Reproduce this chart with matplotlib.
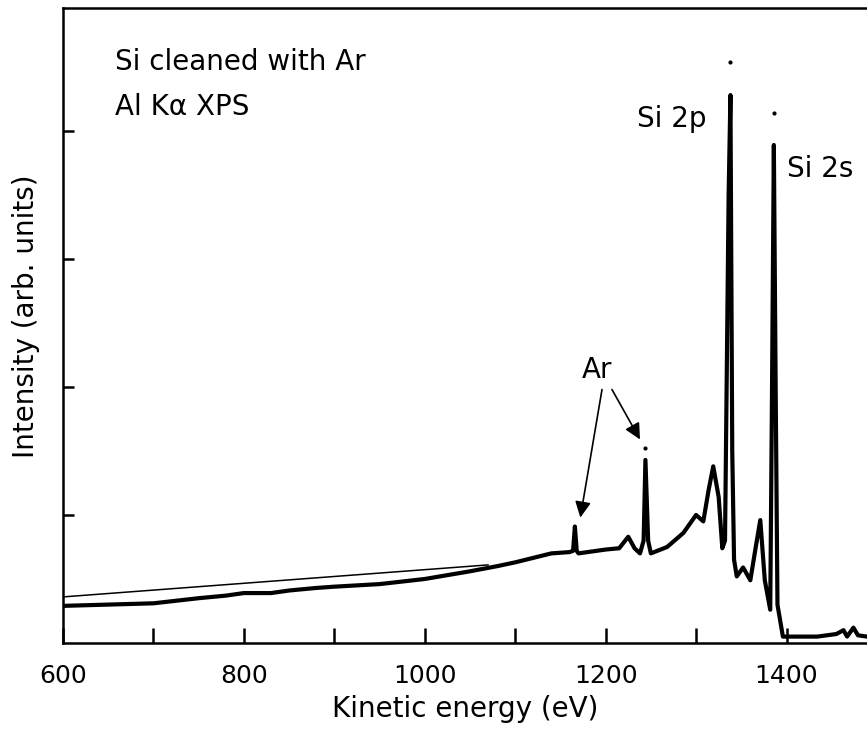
import matplotlib
matplotlib.use("Agg")
import matplotlib.pyplot as plt

# Kinetic energy (eV) and intensity (arb. units) of the measured spectrum
energy = [600, 650, 700, 750, 780, 800, 830, 850, 880, 900, 950, 1000, 1050, 1080,
          1100, 1140, 1160, 1164, 1166, 1168, 1170, 1200, 1215, 1225, 1232, 1238,
          1242, 1244, 1247, 1250, 1268, 1286, 1300, 1308, 1314, 1319, 1325, 1329,
          1332, 1336, 1338, 1340, 1342, 1345, 1352, 1360, 1366, 1371, 1376, 1382,
          1384, 1386, 1388, 1390, 1396, 1434, 1455, 1463, 1467, 1474, 1479, 1489]
intensity = [0.29, 0.30, 0.31, 0.35, 0.37, 0.39, 0.39, 0.41, 0.43, 0.44, 0.46, 0.50,
             0.56, 0.60, 0.63, 0.70, 0.71, 0.72, 0.91, 0.72, 0.70, 0.73, 0.74, 0.83,
             0.74, 0.70, 0.80, 1.43, 0.80, 0.70, 0.75, 0.86, 1.00, 0.95, 1.20, 1.38,
             1.14, 0.74, 0.80, 3.50, 4.28, 1.50, 0.65, 0.52, 0.59, 0.49, 0.75, 0.96,
             0.49, 0.26, 2.00, 3.89, 2.00, 0.30, 0.05, 0.05, 0.07, 0.10, 0.05, 0.12,
             0.06, 0.05]

# Thin straight background line
bg_energy = [600, 1070]
bg_intensity = [0.36, 0.61]

# Isolated dots above the peaks
dot_energy = [1244, 1338, 1386]
dot_intensity = [1.52, 4.54, 4.14]

x_ticks_major = [600, 800, 1000, 1200, 1400]
x_ticks_minor = [700, 900, 1100, 1300]
y_ticks = [1, 2, 3, 4]

fig = plt.figure(figsize=(8.67, 7.35), dpi=100)
ax = fig.add_axes([63/867, 1-643/735, 1-63/867, (643-8)/735])

ax.plot(energy, intensity, color='black', lw=3.0, solid_joinstyle='round')
ax.plot(bg_energy, bg_intensity, color='black', lw=1.1)
ax.scatter(dot_energy, dot_intensity, s=4, color='black')

ax.set_xlim(600, 1489)
ax.set_ylim(0, 4.96)
ax.set_xticks(x_ticks_major)
ax.set_xticks(x_ticks_minor, minor=True)
ax.set_yticks(y_ticks)
ax.set_yticklabels([])
ax.tick_params(axis='both', which='both', direction='in', width=1.8, color='black')
ax.tick_params(axis='x', which='both', length=11, labelsize=18, pad=15)
ax.tick_params(axis='y', length=8)
for s in ['left', 'bottom', 'top']:
    ax.spines[s].set_linewidth(1.8)
ax.spines['right'].set_visible(False)

ax.set_xlabel('Kinetic energy (eV)', fontsize=20, labelpad=5)
ax.set_ylabel('Intensity (arb. units)', fontsize=20)
ax.yaxis.set_label_coords(-0.029, 0.515)

ax.text(657, 4.477, 'Si cleaned with Ar', fontsize=20, va='baseline')
ax.text(657, 4.125, 'Al Kα XPS', fontsize=20, va='baseline')
ax.text(1312, 4.03, 'Si 2p', fontsize=20, va='baseline', ha='right')
ax.text(1401, 3.64, 'Si 2s', fontsize=20, va='baseline', ha='left')
ax.text(1174, 2.07, 'Ar', fontsize=20, va='baseline', ha='left')

ax.annotate('', xy=(1172, 0.98), xytext=(1196, 1.98),
            arrowprops=dict(arrowstyle='-|>', color='black', lw=1.2,
                            mutation_scale=24, shrinkA=0, shrinkB=0))
ax.annotate('', xy=(1238, 1.59), xytext=(1207, 1.98),
            arrowprops=dict(arrowstyle='-|>', color='black', lw=1.2,
                            mutation_scale=24, shrinkA=0, shrinkB=0))

fig.savefig('out.png', dpi=100)
